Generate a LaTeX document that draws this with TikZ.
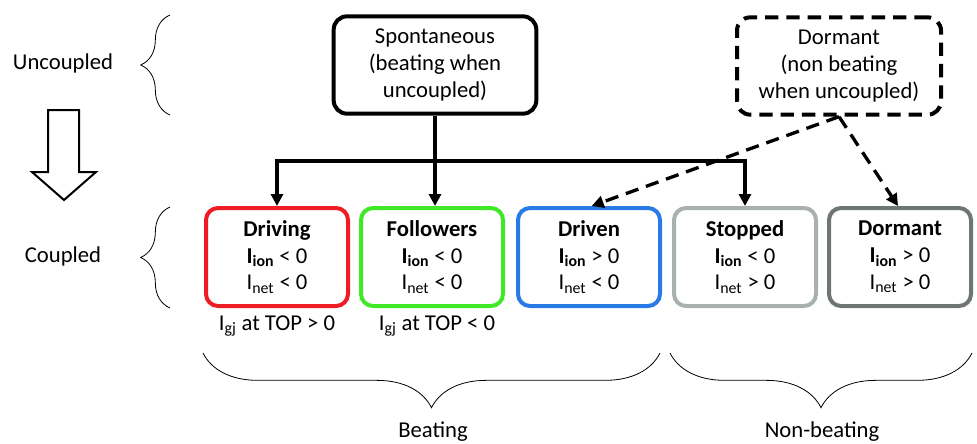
\documentclass[tikz,border=0pt]{standalone}
\usepackage{fontspec}
\setmainfont{Carlito}
\usetikzlibrary{positioning, arrows.meta, decorations.pathreplacing}

\definecolor{drivingred}{RGB}{238,28,36}
\definecolor{followgreen}{RGB}{64,232,40}
\definecolor{drivenblue}{RGB}{42,122,230}
\definecolor{stopgray}{RGB}{170,176,175}
\definecolor{dormgray}{RGB}{110,118,117}

\newcommand{\Iion}{\textbf{I}\textsubscript{\textbf{ion}}}
\newcommand{\Inet}{I\textsubscript{net}}
\newcommand{\Igj}{I\textsubscript{gj}}

\begin{document}
\begin{tikzpicture}[
  x=0.75pt, y=-0.75pt,
  font=\fontsize{17}{20}\selectfont,
  topbox/.style={
    rectangle, draw=black, line width=3pt, rounded corners=10pt,
    minimum width=152pt, minimum height=73pt, align=center, inner sep=4pt
  },
  statebox/.style={
    rectangle, draw=#1, line width=3pt, rounded corners=9pt,
    minimum width=106.5pt, minimum height=73.5pt, align=center, inner sep=4pt
  },
  conn/.style={line width=2.5pt, -{Triangle[length=9pt, width=9pt]}},
  dconn/.style={conn, dash pattern=on 10pt off 6pt},
  curly/.style={decorate, decoration={brace, amplitude=#1}, line width=0.6pt},
]
\useasboundingbox (0,0) rectangle (977,443);

%% ── Row labels ───────────────────────────────────────────────────────────────
\node (uncoup) at (63, 63)  {Uncoupled};
\node (coup)   at (63, 256) {Coupled};

\draw[curly=22pt] (170,115) -- (170,15);
\draw[curly=22pt] (170,308) -- (170,207);

% hollow down arrow
\draw[line width=1.5pt] (48,110) -- (79,110) -- (79,172) -- (96,172)
  -- (64,200) -- (32,172) -- (48,172) -- cycle;

%% ── Uncoupled boxes ──────────────────────────────────────────────────────────
\node[topbox] (spont) at (435, 65)
  {Spontaneous\\(beating when\\uncoupled)};
\node[topbox, minimum width=153pt, dash pattern=on 10pt off 6pt] (dormtop) at (839, 66)
  {Dormant\\(non beating\\when uncoupled)};

%% ── Coupled boxes ────────────────────────────────────────────────────────────
\node[statebox=drivingred]  (drv)  at (277, 257) {\textbf{Driving}\\\Iion{} < 0\\\Inet{} < 0};
\node[statebox=followgreen] (fol)  at (432, 257) {\textbf{Followers}\\\Iion{} < 0\\\Inet{} < 0};
\node[statebox=drivenblue]  (drvn) at (589, 257) {\textbf{Driven}\\\Iion{} > 0\\\Inet{} < 0};
\node[statebox=stopgray]    (stp)  at (745, 257) {\textbf{Stopped}\\\Iion{} < 0\\\Inet{} > 0};
\node[statebox=dormgray]    (dorm) at (900, 257) {\textbf{Dormant}\\\Iion{} > 0\\\Inet{} > 0};

\node (gjdrv) at (277, 326) {\Igj{} at TOP > 0};
\node (gjfol) at (437, 326) {\Igj{} at TOP < 0};

%% ── Connectors ───────────────────────────────────────────────────────────────
\coordinate (bus) at (435, 161);
\draw[conn, {Triangle[length=9pt, width=9pt]}-{Triangle[length=9pt, width=9pt]}]
  (drv.north) |- (bus) -| (stp.north);
\draw[conn] (spont.south) -- (spont.south |- fol.north);

\draw[dconn] (dormtop.south) -- ([xshift=2pt]drvn.north);
\draw[dconn] (dormtop.south) -- ([xshift=-1.5pt]dorm.north);

%% ── Bottom braces ────────────────────────────────────────────────────────────
\draw[curly=41pt] (660,353) -- (203,353);
\draw[curly=41pt] (972,353) -- (670,353);

\node (beat)    at (433, 432) {Beating};
\node (nonbeat) at (822, 432) {Non-beating};

\end{tikzpicture}
\end{document}
